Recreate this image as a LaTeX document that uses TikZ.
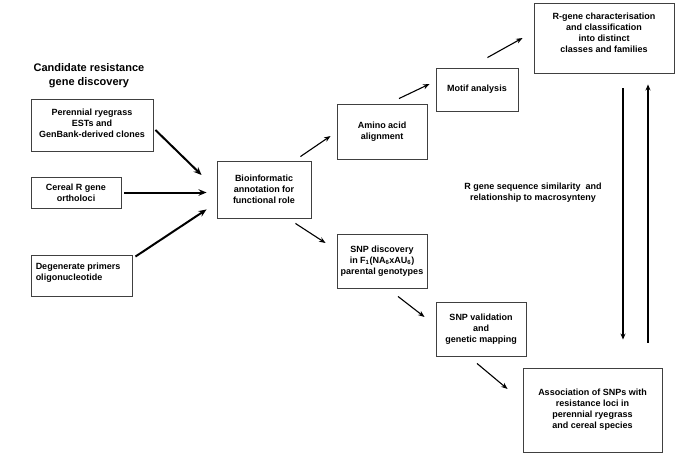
\documentclass[tikz,border=0pt]{standalone}
\usepackage{fontspec}
\setmainfont{Liberation Sans}
\usetikzlibrary{arrows.meta,calc}
\begin{document}
\begin{tikzpicture}[x=1pt,y=-1pt,
  box/.style={draw=black!75,line width=0.9pt,inner sep=0pt,align=center,
    font=\bfseries\fontsize{9}{11}\selectfont},
  txt/.style={inner sep=0pt,align=center,font=\bfseries\fontsize{9}{11}\selectfont},
  thickarr/.style={line width=2pt,-{Stealth[length=8pt,width=6.5pt]}},
  thinarr/.style={line width=1.1pt,-{Stealth[length=6.5pt,width=5pt]}},
  vline/.style={line width=1.1pt}]
\useasboundingbox (0,0) rectangle (685,458);
% title
\node[txt,font=\bfseries\fontsize{11}{14}\selectfont] (title) at (89,76) {Candidate resistance\\gene discovery};
% boxes
\node[box,minimum width=122,minimum height=52] (per) at (92,125) {};
\node[txt] (pert) at ($(per.center)+(0,-2)$) {Perennial ryegrass\\ESTs and\\GenBank-derived clones};
\node[box,minimum width=90,minimum height=31] (cer) at (76,192.5) {Cereal R gene\\ortholoci};
\node[box,minimum width=101,minimum height=41] (deg) at (81.5,275.5) {};
\node[txt,align=left,anchor=west] (degt) at ($(deg.west)+(5,-3)$) {Degenerate primers\\oligonucleotide};
\node[box,minimum width=94,minimum height=57] (bio) at (264,189.5) {Bioinformatic\\annotation for\\functional role};
\node[box,minimum width=90,minimum height=55] (ami) at (382,131.5) {Amino acid\\alignment};
\node[box,minimum width=82,minimum height=43] (mot) at (477,89.5) {Motif analysis};
\node[box,minimum width=140,minimum height=70] (rg) at (604,38) {};
\node[txt] (rgt) at ($(rg.center)+(0,-5)$) {R-gene characterisation\\and classification\\into distinct\\classes and families};
\node[box,minimum width=90,minimum height=54] (snp) at (382,261) {SNP discovery\\in F$_\mathbf{1}$(NA$_\mathbf{6}$xAU$_\mathbf{6}$)\\parental genotypes};
\node[box,minimum width=90,minimum height=54] (val) at (481,329) {SNP validation\\and\\genetic mapping};
\node[box,minimum width=139,minimum height=84] (ass) at (592.5,410) {Association of SNPs with\\resistance loci in\\perennial ryegrass\\and cereal species};
\node[txt] (lab) at (533,192.5) {R gene sequence similarity\ \ and\\relationship to macrosynteny};
% connectors
\draw[thickarr] ($(per.east)+(2,5)$) -- ($(bio.west)+(-15,-14.5)$);
\draw[thickarr] ($(cer.east)+(3,0)$) -- ($(bio.west)+(-10,3)$);
\draw[thickarr] ($(deg.north east)+(3,2)$) -- ($(bio.south west)+(-10,-9)$);
\draw[thinarr] ($(bio.north east)+(-11,-4)$) -- ($(ami.west)+(-6,4.5)$);
\draw[thinarr] ($(ami.north)+(17,-5)$) -- ($(mot.west)+(-6,-5.5)$);
\draw[thinarr] ($(mot.north east)+(-31,-10)$) -- ($(rg.west)+(-11,0)$);
\draw[thinarr] ($(bio.south east)+(-16,5)$) -- ($(snp.west)+(-11,-18)$);
\draw[thinarr] ($(snp.south)+(16,8)$) -- ($(val.west)+(-11,-12)$);
\draw[thinarr] ($(val.south)+(-4,7)$) -- ($(ass.west)+(-15,-21)$);
\draw[vline,-{Stealth[length=6pt,width=5pt]}] ($(rg.south)+(19,15)$) -- ($(ass.north)+(30.5,-28)$);
\draw[vline,-{Stealth[length=6pt,width=5pt]}] ($(ass.north)+(55.5,-25)$) -- ($(rg.south)+(44,11)$);
\end{tikzpicture}
\end{document}
